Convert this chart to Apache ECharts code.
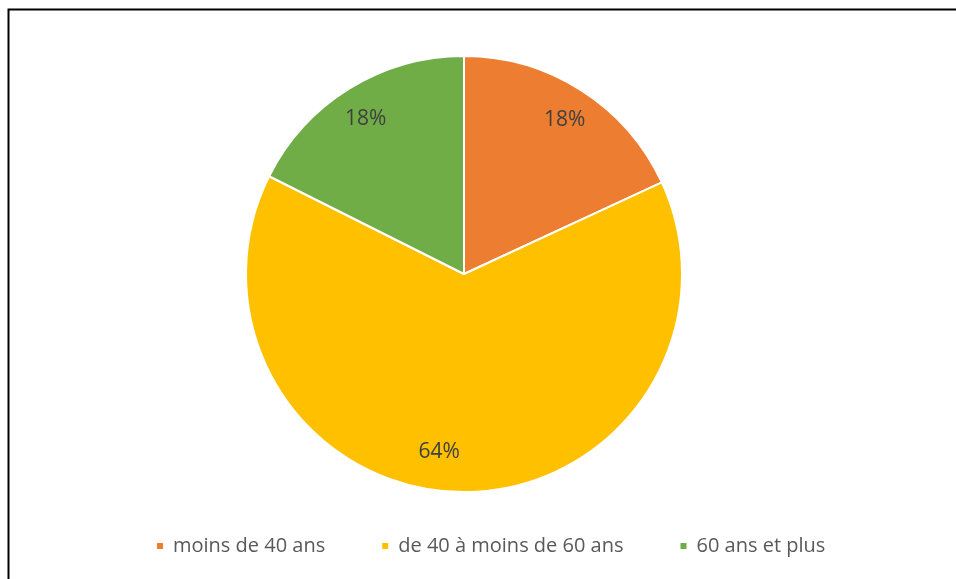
<!DOCTYPE html>
<html><head><meta charset="utf-8">
<script src="https://cdn.jsdelivr.net/npm/echarts@6/dist/echarts.min.js"></script>
<style>html,body{margin:0;padding:0;background:#fff}#c{width:956px;height:579px}</style>
</head><body><div id="c"></div>
<script>
var categories = ['moins de 40 ans', 'de 40 à moins de 60 ans', '60 ans et plus'];
var values = [18.1, 64.3, 17.6];
var colors = ['#ED7D31', '#FFC000', '#70AD47'];

var font = 'Open Sans';
var data = categories.map(function (c, i) {
  return { name: c, value: values[i], itemStyle: { color: colors[i] } };
});
var labelData = categories.map(function (c, i) {
  var d = { name: c, value: values[i] };
  if (i === 1) d.label = { offset: [-22, -9] };
  return d;
});

var chart = echarts.init(document.getElementById('c'));
chart.setOption({
  animation: false,
  graphic: [{
    type: 'rect', shape: { x: 8.5, y: 9.5, width: 1200, height: 800 },
    style: { fill: 'none', stroke: '#000', lineWidth: 2 }, silent: true
  }],
  legend: {
    top: 531, left: 150,
    itemWidth: 8, itemHeight: 8, itemGap: 55, icon: 'rect',
    textStyle: { fontFamily: font, fontSize: 20, color: '#595959', padding: [0, 0, 0, 4] },
    data: categories
  },
  series: [{
    type: 'pie', center: [464, 274], radius: 218, startAngle: 90, clockwise: true,
    itemStyle: { borderColor: '#fff', borderWidth: 2 },
    label: { show: false }, labelLine: { show: false },
    emphasis: { disabled: true },
    data: data
  }, {
    type: 'pie', center: [464, 274], radius: [150, 218], startAngle: 90, clockwise: true,
    silent: true, legendHoverLink: false,
    itemStyle: { color: 'rgba(0,0,0,0)', borderWidth: 0 },
    label: {
      show: true, position: 'inside', offset: [0, 4],
      formatter: function (p) { return Math.round(p.value) + '%'; },
      fontFamily: font, fontSize: 21, color: '#404040'
    },
    labelLine: { show: false },
    emphasis: { disabled: true },
    data: labelData
  }]
});
</script></body></html>
